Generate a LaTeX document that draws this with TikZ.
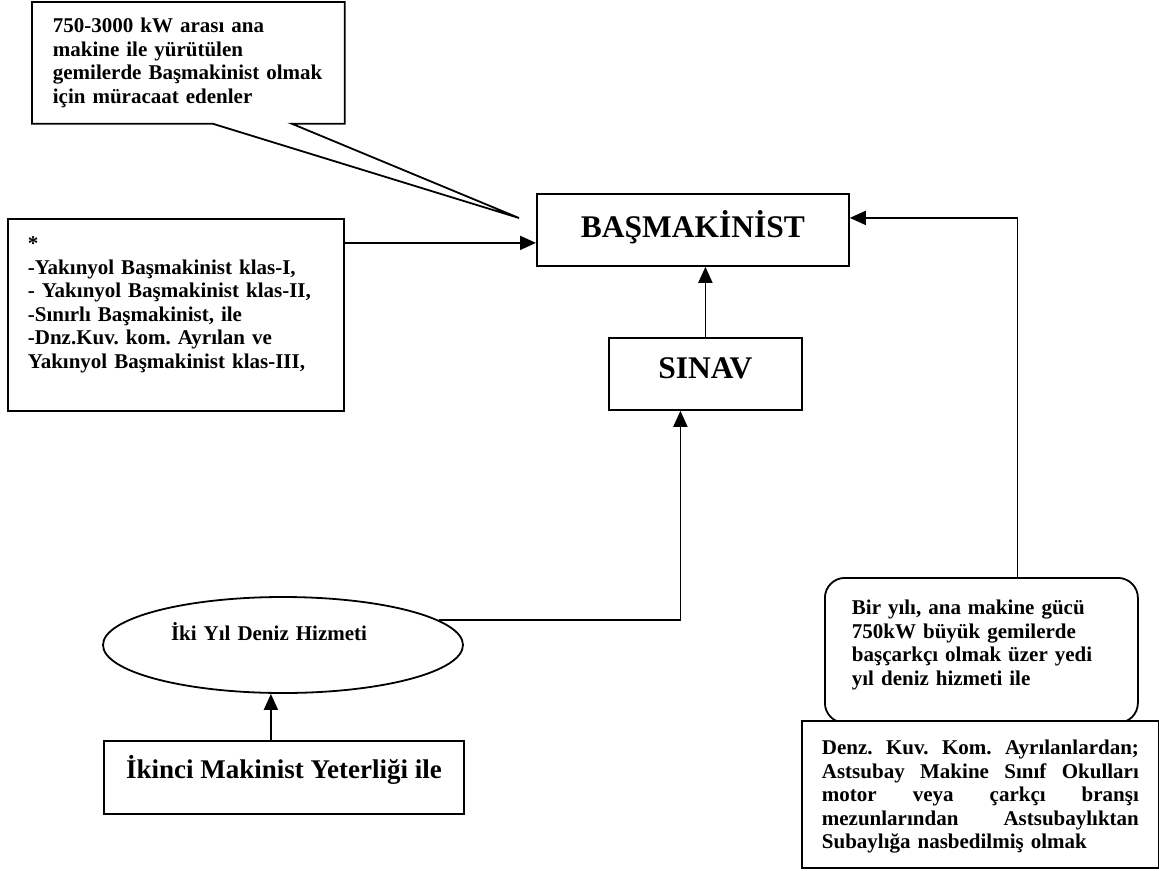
\documentclass[tikz,border=0pt]{standalone}
\usepackage{fontspec}
\setmainfont{Liberation Serif}
\usetikzlibrary{arrows.meta,shapes.geometric}
\newcommand\satir[1]{\makebox[\linewidth][s]{\spaceskip=.25em plus 1fil\xspaceskip=\spaceskip #1}}
\frenchspacing
\begin{document}
\begin{tikzpicture}[x=1pt, y=-1pt, line width=1.8pt, font=\bfseries\fontsize{21}{23.5}\selectfont, >={Triangle[length=16pt,width=14pt]},
	metin/.style={anchor=north west, inner xsep=20pt, inner ysep=0pt, align=left},
	kutu/.style={draw, anchor=north west, inner ysep=0pt},
	baslik/.style={kutu, font=\bfseries\fontsize{31.5}{36}\selectfont}]
	\useasboundingbox (0,0) rectangle (1159,870);
	% kutular
	\node[metin, text width=271pt, text height=30pt, text depth=90pt] (basvuru) at (32,2) {750-3000 kW arası ana\\ makine ile yürütülen\\ gemilerde Başmakinist olmak\\ için müracaat edenler};
	\node[metin, draw, text width=296pt, text height=32pt, text depth=160pt] (liste) at (7,218) {*\\ -Yakınyol Başmakinist klas-I,\\ - Yakınyol Başmakinist klas-II,\\ -Sınırlı Başmakinist, ile\\ -Dnz.Kuv. kom. Ayrılan ve\\ Yakınyol Başmakinist klas-III,};
	\node[baslik, minimum width=312pt, text height=44pt, text depth=28pt] (bas) at (536,193) {BAŞMAKİNİST};
	\node[baslik, minimum width=193pt, text height=41pt, text depth=31pt] (sinav) at (608,337) {SINAV};
	\node[draw, ellipse, minimum width=360pt, minimum height=96pt, text width=224pt, align=left, text height=16pt, text depth=26pt] (deniz) at (283,645) {İki Yıl Deniz Hizmeti};
	\node[kutu, minimum width=360pt, text height=38pt, text depth=35pt, font=\bfseries\fontsize{27}{30}\selectfont] (ikinci) at (103,740) {İkinci Makinist Yeterliği ile};
	\node[metin, draw, rounded corners=20pt, inner xsep=27pt, text width=259pt, text height=37pt, text depth=108pt] (yil) at (824,577) {Bir yılı, ana makine gücü\\ 750kW büyük gemilerde\\ başçarkçı olmak üzer yedi\\ yıl deniz hizmeti ile};
	\node[metin, draw, fill=white, text width=317pt, text height=34pt, text depth=113pt] (subay) at (801,720) {\satir{Denz. Kuv. Kom. Ayrılanlardan;}\\ \satir{Astsubay Makine Sınıf Okulları}\\ \satir{motor veya çarkçı branşı}\\ \satir{mezunlarından Astsubaylıktan}\\ Subaylığa nasbedilmiş olmak};
	% konusma balonu
	\coordinate (uc) at (519,218);
	\draw (basvuru.south west) -- ([xshift=181pt]basvuru.south west) -- (uc) -- ([xshift=260pt]basvuru.south west) -- (basvuru.south east) -- (basvuru.north east) -- (basvuru.north west) -- cycle;
	% oklar
	\coordinate (p1) at ([yshift=-13pt]bas.west);
	\draw[->] (p1 -| liste.east) -- (p1);
	\draw[->] (sinav.north) -- (sinav.north |- bas.south);
	\coordinate (p2) at ([xshift=-25pt]sinav.south);
	\draw[->] (deniz.9) -| (p2);
	\coordinate (p3) at ([xshift=-13pt]ikinci.north);
	\draw[->] (p3) -- (p3 |- deniz.south);
	\coordinate (p4) at ([xshift=36pt]yil.north);
	\coordinate (p5) at ([yshift=12pt]bas.east);
	\draw[->] (p4) |- (p5);
\end{tikzpicture}
\end{document}
